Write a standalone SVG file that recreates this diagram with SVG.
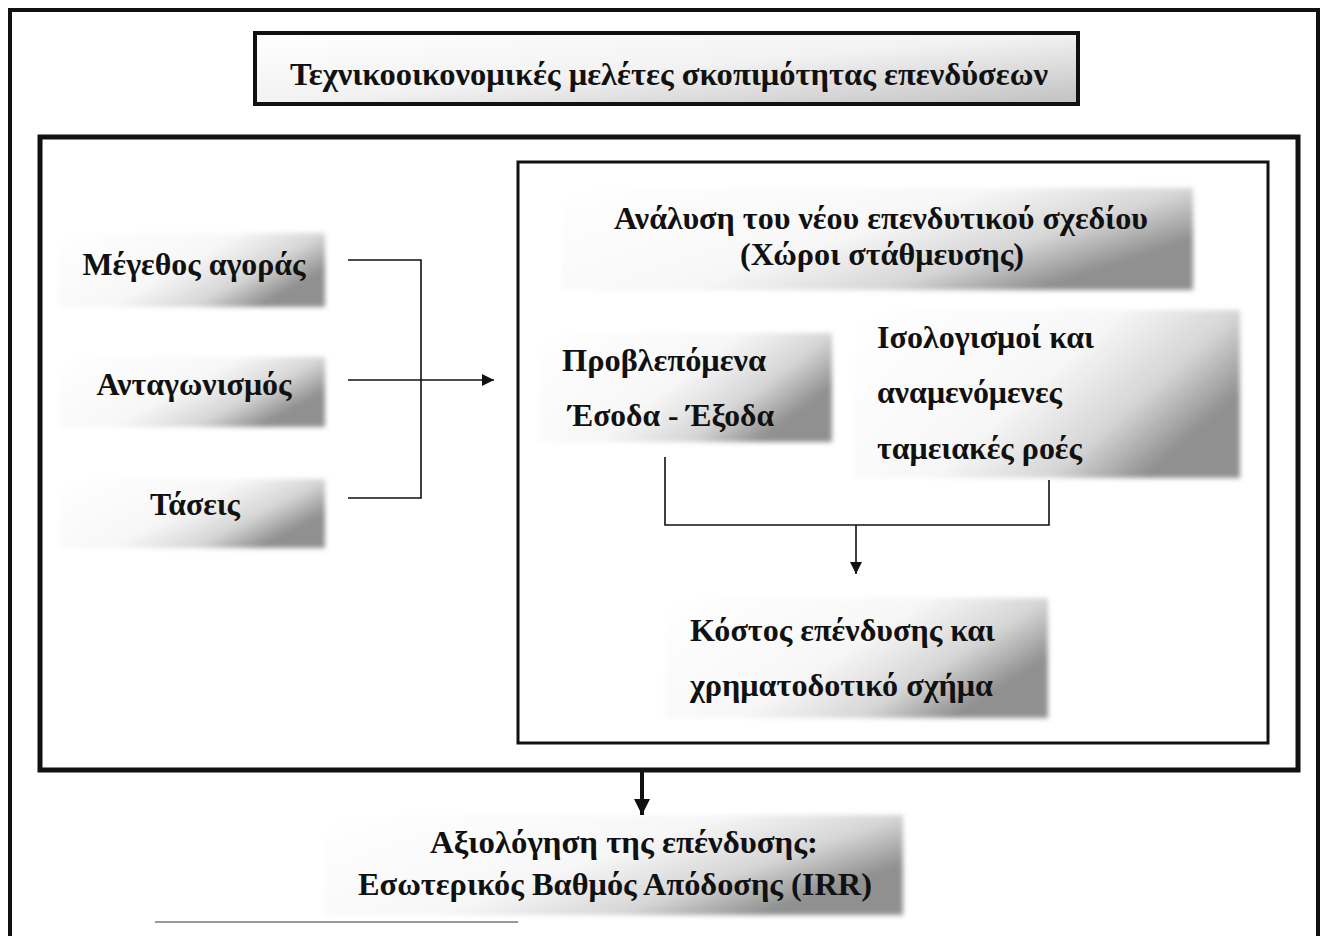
<svg xmlns="http://www.w3.org/2000/svg" width="1327" height="936" viewBox="0 0 1327 936">
<defs>
<linearGradient id="g" x1="0" y1="0" x2="1" y2="0.5">
<stop offset="0" stop-color="#ffffff"/>
<stop offset="0.55" stop-color="#f7f7f7"/>
<stop offset="0.8" stop-color="#d6d6d6"/>
<stop offset="1" stop-color="#909090"/>
</linearGradient>
<linearGradient id="gt" x1="0" y1="0" x2="1" y2="1">
<stop offset="0" stop-color="#ffffff"/>
<stop offset="0.5" stop-color="#f2f2f2"/>
<stop offset="1" stop-color="#c0c0c0"/>
</linearGradient>
<filter id="soft" x="-5%" y="-10%" width="110%" height="120%">
<feGaussianBlur stdDeviation="2.5"/>
</filter>
<marker id="ah" viewBox="0 0 10 10" refX="10" refY="5" markerWidth="14" markerHeight="12" markerUnits="userSpaceOnUse" orient="auto">
<path d="M0,0 L10,5 L0,10 Z" fill="#111"/>
</marker>
<marker id="ah2" viewBox="0 0 10 10" refX="10" refY="5" markerWidth="20" markerHeight="16" markerUnits="userSpaceOnUse" orient="auto">
<path d="M0,0 L10,5 L0,10 Z" fill="#111"/>
</marker>
</defs>
<style>
text{font-family:"Liberation Serif","DejaVu Serif",serif;font-weight:bold;fill:#111;font-size:31px}
.box{fill:url(#g);filter:url(#soft)}
.frame{fill:none;stroke:#111}
.con{fill:none;stroke:#111;stroke-width:1.6}
</style>
<rect width="1327" height="936" fill="#ffffff"/>
<path class="frame" d="M10,936 V10 H1318 V936" stroke-width="4"/>
<g id="title">
<rect x="255" y="33" width="823" height="71" fill="url(#gt)" stroke="#111" stroke-width="4"/>
<text x="669" y="85" text-anchor="middle" font-size="31" textLength="758" lengthAdjust="spacingAndGlyphs">Τεχνικοοικονομικές μελέτες σκοπιμότητας επενδύσεων</text>
</g>
<rect id="main" class="frame" x="40" y="137" width="1258" height="633" stroke-width="5"/>
<rect id="inner" class="frame" x="518" y="162" width="750" height="581" stroke-width="3"/>
<g id="n1">
<rect class="box" x="58" y="233" width="267" height="74"/>
<text x="194" y="275" text-anchor="middle" textLength="223" lengthAdjust="spacingAndGlyphs">Μέγεθος αγοράς</text>
</g>
<g id="n2">
<rect class="box" x="60" y="357" width="265" height="70"/>
<text x="194" y="395" text-anchor="middle" textLength="195" lengthAdjust="spacingAndGlyphs">Ανταγωνισμός</text>
</g>
<g id="n3">
<rect class="box" x="60" y="479" width="265" height="69"/>
<text x="195" y="515" text-anchor="middle" textLength="90" lengthAdjust="spacingAndGlyphs">Τάσεις</text>
</g>
<g id="n4">
<rect class="box" x="562" y="188" width="631" height="102"/>
<text x="881" y="229" text-anchor="middle" textLength="534" lengthAdjust="spacingAndGlyphs">Ανάλυση του νέου επενδυτικού σχεδίου</text>
<text x="882" y="265" text-anchor="middle" textLength="284" lengthAdjust="spacingAndGlyphs">(Χώροι στάθμευσης)</text>
</g>
<g id="n5">
<rect class="box" x="540" y="333" width="292" height="109"/>
<text x="562" y="371" textLength="204" lengthAdjust="spacingAndGlyphs">Προβλεπόμενα</text>
<text x="568" y="426" textLength="206" lengthAdjust="spacingAndGlyphs">Έσοδα - Έξοδα</text>
</g>
<g id="n6">
<rect class="box" x="855" y="310" width="385" height="168"/>
<text x="877" y="348" textLength="217" lengthAdjust="spacingAndGlyphs">Ισολογισμοί και</text>
<text x="877" y="403" textLength="185" lengthAdjust="spacingAndGlyphs">αναμενόμενες</text>
<text x="877" y="459" textLength="205" lengthAdjust="spacingAndGlyphs">ταμειακές ροές</text>
</g>
<g id="n7">
<rect class="box" x="665" y="598" width="383" height="120"/>
<text x="690" y="641" textLength="305" lengthAdjust="spacingAndGlyphs">Κόστος επένδυσης και</text>
<text x="690" y="696" textLength="303" lengthAdjust="spacingAndGlyphs">χρηματοδοτικό σχήμα</text>
</g>
<g id="n8">
<rect class="box" x="325" y="815" width="578" height="100"/>
<text x="624" y="853" text-anchor="middle" textLength="388" lengthAdjust="spacingAndGlyphs">Αξιολόγηση της επένδυσης:</text>
<text x="615" y="895" text-anchor="middle" textLength="514" lengthAdjust="spacingAndGlyphs">Εσωτερικός Βαθμός Απόδοσης (IRR)</text>
</g>
<g id="connectors">
<path class="con" d="M348,260 H421 V498 H348"/>
<path class="con" d="M348,380 H494" marker-end="url(#ah)"/>
<path class="con" d="M665,457 V525 H1049 V480"/>
<path class="con" d="M856,525 V574" marker-end="url(#ah)"/>
<path d="M642,772 V815" stroke="#111" stroke-width="4" fill="none" marker-end="url(#ah2)"/>
</g>
<line x1="155" y1="922" x2="518" y2="922" stroke="#999" stroke-width="2"/>
</svg>
